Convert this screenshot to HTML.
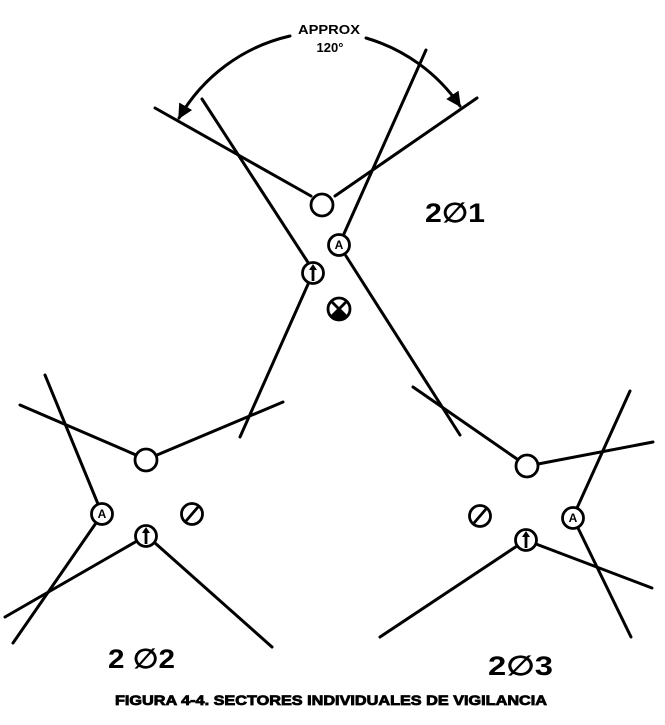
<!DOCTYPE html>
<html><head><meta charset="utf-8"><style>
html,body{margin:0;padding:0;background:#fff;}
svg{display:block;}
text{font-family:"Liberation Sans",sans-serif;fill:#000;}
</style></head><body>
<svg width="665" height="725" viewBox="0 0 665 725" xmlns="http://www.w3.org/2000/svg">
<defs>
<marker id="ah" viewBox="0 0 10 10" refX="9" refY="5" markerWidth="5" markerHeight="5" orient="auto">
<path d="M0,0 L10,5 L0,10 z" fill="#000"/>
</marker>
</defs>
<g stroke="#000" stroke-width="3" fill="none" stroke-linecap="round">
<line x1="155" y1="108" x2="311" y2="196"/>
<line x1="335" y1="196" x2="477" y2="98"/>
<line x1="202" y1="99" x2="309" y2="264"/>
<line x1="309" y1="282" x2="240" y2="437"/>
<line x1="343" y1="236" x2="426" y2="50"/>
<line x1="346" y1="256" x2="460" y2="435"/>
<path d="M290,36 A172,172 0 0 0 179,118" marker-end="url(#ah)"/>
<path d="M366,38 A172,172 0 0 1 460,106" marker-end="url(#ah)"/>
<line x1="20" y1="405" x2="136" y2="455"/>
<line x1="157" y1="455" x2="283" y2="402"/>
<line x1="45" y1="375" x2="98" y2="504"/>
<line x1="96" y1="523" x2="13" y2="643"/>
<line x1="137" y1="541" x2="5" y2="617"/>
<line x1="155" y1="543" x2="272" y2="647"/>
<line x1="413" y1="387" x2="517" y2="459"/>
<line x1="538" y1="464" x2="653" y2="442"/>
<line x1="577" y1="508" x2="630" y2="391"/>
<line x1="578" y1="528" x2="631" y2="637"/>
<line x1="517" y1="546" x2="380" y2="637"/>
<line x1="536" y1="544" x2="652" y2="588"/>
</g>
<g stroke="#000" stroke-width="2.8" fill="#fff">
<circle cx="322" cy="205" r="11"/>
<circle cx="313" cy="273" r="10.5"/>
<circle cx="339" cy="245" r="10.5"/>
<circle cx="339" cy="309" r="11"/>
<circle cx="146" cy="460" r="11"/>
<circle cx="102" cy="514" r="10.5"/>
<circle cx="146" cy="536" r="10.5"/>
<circle cx="192" cy="514" r="10.5"/>
<circle cx="527" cy="466" r="11"/>
<circle cx="573" cy="518" r="10.5"/>
<circle cx="526" cy="540" r="10.5"/>
<circle cx="480" cy="516" r="10.5"/>
</g>
<path d="M331,316 L339,309 L347,316 A11,11 0 0 1 331,316 z" fill="#000"/>
<g stroke="#000" stroke-width="2.8">
<line x1="331" y1="301" x2="347" y2="317"/>
<line x1="347" y1="301" x2="331" y2="317"/>
<line x1="186" y1="521" x2="198" y2="507"/>
<line x1="474" y1="523" x2="486" y2="509"/>
<line x1="313" y1="281" x2="313" y2="268"/>
<line x1="146" y1="544" x2="146" y2="531"/>
<line x1="526" y1="548" x2="526" y2="535"/>
</g>
<g fill="#000">
<path d="M309,270 L313,264 L317,270 z"/>
<path d="M142,533 L146,527 L150,533 z"/>
<path d="M522,537 L526,531 L530,537 z"/>
</g>
<g font-weight="bold" font-size="12" text-anchor="middle">
<text x="339" y="249">A</text>
<text x="102" y="518">A</text>
<text x="573" y="522">A</text>
</g>
<text x="329" y="34" font-size="13" font-weight="bold" text-anchor="middle" textLength="62" lengthAdjust="spacingAndGlyphs">APPROX</text>
<text x="330" y="52" font-size="13" font-weight="bold" text-anchor="middle">120°</text>
<text x="425" y="222" font-size="27" font-weight="bold" textLength="60" lengthAdjust="spacingAndGlyphs">2∅1</text>
<text x="108" y="668" font-size="27" font-weight="bold" textLength="67" lengthAdjust="spacingAndGlyphs">2 ∅2</text>
<text x="488" y="675" font-size="27" font-weight="bold" textLength="65" lengthAdjust="spacingAndGlyphs">2∅3</text>
<text x="331" y="705" font-size="14" font-weight="bold" text-anchor="middle" stroke="#000" stroke-width="0.8" textLength="432" lengthAdjust="spacingAndGlyphs">FIGURA 4-4. SECTORES INDIVIDUALES DE VIGILANCIA</text>
</svg>
</body></html>
